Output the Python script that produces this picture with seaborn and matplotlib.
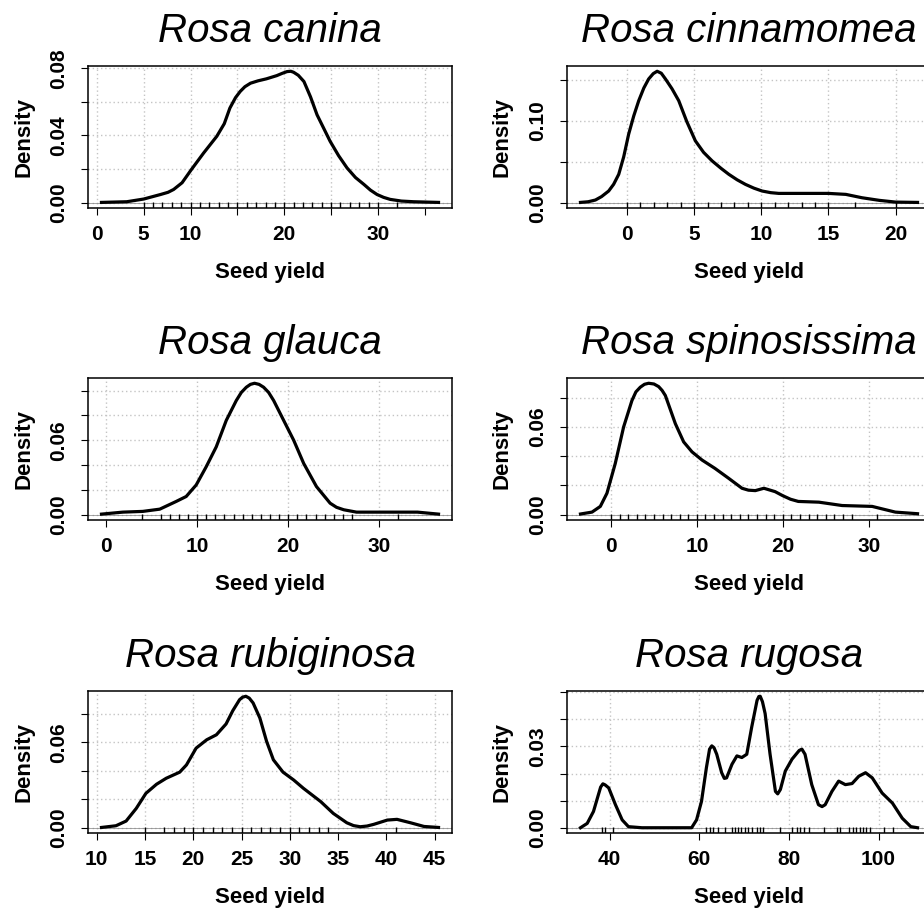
import numpy as np
import matplotlib
matplotlib.use("Agg")
import matplotlib.pyplot as plt
import seaborn as sns

plt.rcParams['font.family'] = ['Liberation Sans', 'DejaVu Sans']

# Density curves (seed yield, density)
canina_x = [0.5, 3.2, 5.0, 6.8, 7.6, 8.2, 9.1, 10.1, 11.4, 12.8, 13.6, 14.2, 14.8, 15.3,
            15.8, 16.4, 17.2, 18.1, 19.2, 19.8, 20.3, 20.7, 21.0, 21.5, 22.1, 22.8,
            23.5, 24.9, 25.8, 26.7, 27.6, 28.5, 29.2, 29.9, 30.6, 31.3, 32.5, 33.8, 36.46]
canina_y = [0.0002, 0.0006, 0.0022, 0.0049, 0.0062, 0.0079, 0.0119, 0.0198, 0.0296,
            0.0395, 0.0470, 0.0563, 0.0625, 0.0662, 0.0690, 0.0711, 0.0725, 0.0737,
            0.0756, 0.0770, 0.0780, 0.0782, 0.0776, 0.0758, 0.0721, 0.0630, 0.0523,
            0.0365, 0.0280, 0.0207, 0.0150, 0.0109, 0.0075, 0.0049, 0.0032, 0.0020,
            0.0010, 0.0006, 0.0002]
canina_rug = [5, 6, 7, 8, 9, 10, 11, 12, 13, 14, 15, 16, 17, 18, 19, 20, 21, 22, 23,
              24, 25, 26, 27, 28, 29, 30, 32]

cinnamomea_x = [-3.47, -2.9, -2.36, -1.9, -1.37, -1.0, -0.62, -0.25, 0.12, 0.5, 0.87,
                1.25, 1.61, 1.95, 2.24, 2.55, 2.86, 3.35, 3.85, 4.45, 5.09, 5.7, 6.34,
                7.0, 7.58, 8.2, 8.82, 9.45, 10.06, 10.7, 11.3, 12.5, 15.0, 16.3, 17.5,
                18.8, 20.0, 21.64]
cinnamomea_y = [0.0004, 0.0012, 0.0033, 0.0075, 0.0143, 0.0225, 0.0347, 0.0560, 0.0837,
                0.1060, 0.1245, 0.1400, 0.1510, 0.1575, 0.1604, 0.1580, 0.1510, 0.1390,
                0.1245, 0.0990, 0.0755, 0.0615, 0.0510, 0.0420, 0.0347, 0.0280, 0.0224,
                0.0178, 0.0143, 0.0123, 0.0114, 0.0114, 0.0114, 0.0102, 0.0061, 0.0029,
                0.0008, 0.0004]
cinnamomea_rug = [0, 1, 2, 3, 4, 5, 6, 7, 8, 9, 10, 11, 12, 13, 14, 15, 17, 20]

glauca_x = [-0.5, 1.84, 4.04, 5.9, 7.7, 8.8, 9.9, 11.0, 12.1, 13.2, 14.3, 14.85, 15.4,
            15.85, 16.3, 16.8, 17.3, 17.85, 18.4, 19.5, 20.6, 21.7, 23.1, 24.6, 25.3,
            26.1, 27.5, 30.5, 34.2, 36.5]
glauca_y = [0.0005, 0.0021, 0.0027, 0.0045, 0.0107, 0.0147, 0.0240, 0.0387, 0.0547,
            0.0760, 0.0920, 0.0985, 0.1027, 0.1050, 0.1059, 0.1050, 0.1027, 0.0985,
            0.0920, 0.0760, 0.0600, 0.0413, 0.0227, 0.0093, 0.0060, 0.0040, 0.0021,
            0.0021, 0.0021, 0.0005]
glauca_rug = [4, 6, 7, 8, 9, 10, 11, 12, 13, 14, 15, 16, 17, 18, 19, 20, 21, 22, 23,
              24, 25, 26, 27, 32]

spinosissima_x = [-3.55, -2.21, -1.24, -0.47, 0.5, 1.47, 2.44, 2.9, 3.41, 3.9, 4.38,
                  5.0, 5.55, 5.95, 6.33, 7.49, 8.46, 9.43, 10.6, 12.1, 13.7, 15.25, 16.0,
                  16.8, 17.8, 19.1, 20.0, 20.9, 21.8, 24.2, 26.9, 30.4, 31.5, 33.1, 35.68]
spinosissima_y = [0.0005, 0.0018, 0.0057, 0.0147, 0.0351, 0.0600, 0.0781, 0.0840, 0.0872,
                  0.0892, 0.0899, 0.0894, 0.0876, 0.0850, 0.0815, 0.0623, 0.0498, 0.0430,
                  0.0374, 0.0317, 0.0249, 0.0181, 0.0168, 0.0165, 0.0181, 0.0158, 0.0130,
                  0.0106, 0.0091, 0.0086, 0.0063, 0.0057, 0.0041, 0.0018, 0.0007]
spinosissima_rug = [0, 1, 2, 3, 4, 5, 6, 7, 8, 9, 10, 11, 12, 13, 14, 15, 16, 17, 18,
                    19, 20, 21, 22, 23, 24, 25, 26, 27, 28, 31]

rubiginosa_x = [10.5, 12.0, 13.05, 14.1, 15.1, 16.2, 17.2, 18.6, 19.3, 20.3, 21.4, 22.4,
                23.4, 24.1, 24.8, 25.1, 25.45, 25.8, 26.2, 26.9, 27.6, 28.3, 29.3, 30.4,
                31.4, 33.2, 34.5, 35.9, 36.6, 37.3, 38.0, 38.7, 40.1, 41.1, 42.5, 43.9, 45.4]
rubiginosa_y = [0.0002, 0.0014, 0.0047, 0.0136, 0.0242, 0.0306, 0.0348, 0.0391, 0.0442,
                0.0560, 0.0619, 0.0654, 0.0730, 0.0824, 0.0901, 0.0918, 0.0925, 0.0912,
                0.0878, 0.0772, 0.0607, 0.0478, 0.0391, 0.0336, 0.0278, 0.0184, 0.0101,
                0.0035, 0.0015, 0.0007, 0.0012, 0.0024, 0.0054, 0.0059, 0.0035, 0.0009,
                0.0002]
rubiginosa_rug = [15, 17, 18, 19, 20, 21, 22, 23, 24, 25, 26, 27, 28, 29, 30, 31, 32,
                  33, 34, 41]

rugosa_x = [33.5, 35.0, 36.4, 37.5, 38.0, 38.5, 39.0, 39.8, 41.3, 42.8, 44.2, 47.2,
            58.3, 59.4, 60.5, 61.6, 62.3, 62.8, 63.3, 63.9, 65.0, 65.6, 66.1, 67.3,
            68.4, 69.5, 70.6, 71.7, 72.9, 73.3, 73.6, 74.1, 74.7, 75.8, 77.0, 77.5,
            78.1, 79.2, 80.7, 82.3, 82.9, 83.6, 85.1, 86.6, 87.4, 88.1, 89.6, 91.1,
            92.6, 94.1, 95.6, 97.1, 98.6, 100.8, 103.1, 105.3, 107.2, 108.7]
rugosa_y = [0.0, 0.0016, 0.0060, 0.0122, 0.0150, 0.0162, 0.0158, 0.0147, 0.0085, 0.0029,
            0.0004, 0.0, 0.0, 0.0029, 0.0097, 0.0222, 0.0290, 0.0302, 0.0295, 0.0271,
            0.0203, 0.0182, 0.0184, 0.0234, 0.0265, 0.0259, 0.0271, 0.0371, 0.0470,
            0.0484, 0.0485, 0.0465, 0.0421, 0.0271, 0.0134, 0.0125, 0.0141, 0.0209,
            0.0253, 0.0285, 0.0290, 0.0271, 0.0159, 0.0085, 0.0078, 0.0085, 0.0134,
            0.0172, 0.0159, 0.0163, 0.0190, 0.0203, 0.0184, 0.0128, 0.0091, 0.0035,
            0.0004, 0.0]
rugosa_rug = [38.2, 39.0, 40.8, 61.6, 62.4, 63.1, 64.2, 65.7, 67.2, 68.0, 68.7, 69.4,
              70.2, 70.9, 71.7, 72.8, 73.5, 74.3, 78.0, 80.8, 81.7, 82.5, 83.3, 84.5,
              87.8, 90.7, 91.5, 93.4, 94.2, 95.0, 95.8, 96.6, 97.3, 98.2, 101.3, 103.2]

# Axis ticks and the labels R kept (blank = dropped for overlap)
canina_xticks = [0, 5, 10, 15, 20, 25, 30, 35]
canina_xlabels = ['0', '5', '10', '', '20', '', '30', '']
canina_yticks = [0, 0.02, 0.04, 0.06, 0.08]
canina_ylabels = ['0.00', '', '0.04', '', '0.08']

cinnamomea_xticks = [0, 5, 10, 15, 20]
cinnamomea_xlabels = ['0', '5', '10', '15', '20']
cinnamomea_yticks = [0, 0.05, 0.10, 0.15]
cinnamomea_ylabels = ['0.00', '', '0.10', '']

glauca_xticks = [0, 10, 20, 30]
glauca_xlabels = ['0', '10', '20', '30']
glauca_yticks = [0, 0.02, 0.04, 0.06, 0.08, 0.10]
glauca_ylabels = ['0.00', '', '', '0.06', '', '']

spinosissima_xticks = [0, 10, 20, 30]
spinosissima_xlabels = ['0', '10', '20', '30']
spinosissima_yticks = [0, 0.02, 0.04, 0.06, 0.08]
spinosissima_ylabels = ['0.00', '', '', '0.06', '']

rubiginosa_xticks = [10, 15, 20, 25, 30, 35, 40, 45]
rubiginosa_xlabels = ['10', '15', '20', '25', '30', '35', '40', '45']
rubiginosa_yticks = [0, 0.02, 0.04, 0.06, 0.08]
rubiginosa_ylabels = ['0.00', '', '', '0.06', '']

rugosa_xticks = [40, 60, 80, 100]
rugosa_xlabels = ['40', '60', '80', '100']
rugosa_yticks = [0, 0.01, 0.02, 0.03, 0.04, 0.05]
rugosa_ylabels = ['0.00', '', '', '0.03', '', '']

species = ['Rosa canina', 'Rosa cinnamomea', 'Rosa glauca',
           'Rosa spinosissima', 'Rosa rubiginosa', 'Rosa rugosa']

panels = [
    (canina_x, canina_y, canina_rug, canina_xticks, canina_xlabels, canina_yticks, canina_ylabels),
    (cinnamomea_x, cinnamomea_y, cinnamomea_rug, cinnamomea_xticks, cinnamomea_xlabels,
     cinnamomea_yticks, cinnamomea_ylabels),
    (glauca_x, glauca_y, glauca_rug, glauca_xticks, glauca_xlabels, glauca_yticks, glauca_ylabels),
    (spinosissima_x, spinosissima_y, spinosissima_rug, spinosissima_xticks, spinosissima_xlabels,
     spinosissima_yticks, spinosissima_ylabels),
    (rubiginosa_x, rubiginosa_y, rubiginosa_rug, rubiginosa_xticks, rubiginosa_xlabels,
     rubiginosa_yticks, rubiginosa_ylabels),
    (rugosa_x, rugosa_y, rugosa_rug, rugosa_xticks, rugosa_xlabels, rugosa_yticks, rugosa_ylabels),
]

# Layout in pixels (figure is 924 x 908, right column runs off the edge)
W, H = 924, 908
col_left = [88, 567]
row_top = [66, 378, 691]
box_w, box_h = 364, 142

fig = plt.figure(figsize=(W / 100, H / 100), dpi=100)

for i, (name, (xs, ys, rug, xt, xl, yt, yl)) in enumerate(zip(species, panels)):
    r, c = divmod(i, 2)
    rect = [col_left[c] / W, 1 - (row_top[r] + box_h) / H, box_w / W, box_h / H]
    ax = fig.add_axes(rect)

    # R style limits: 4% padding around the curve range
    xr = max(xs) - min(xs)
    ax.set_xlim(min(xs) - 0.04 * xr, max(xs) + 0.04 * xr)
    ymax = max(ys)
    ax.set_ylim(-0.04 * ymax, 1.04 * ymax)

    ax.set_xticks(xt)
    ax.set_xticklabels(xl, fontsize=15, fontweight='bold')
    ax.set_yticks(yt)
    ax.set_yticklabels(yl, fontsize=15, fontweight='bold', rotation=90, va='center')

    # dotted light gray grid, like R's grid()
    ax.grid(True, color='#c4c4c4', linestyle=(0, (1, 2)), linewidth=1)
    ax.set_axisbelow(True)
    ax.axhline(0, color='gray', linewidth=0.5, zorder=1)

    sns.lineplot(x=xs, y=ys, ax=ax, color='black', linewidth=2.3,
                 estimator=None, sort=False, zorder=3)
    sns.rugplot(x=rug, ax=ax, height=0.04, color='black', linewidth=1)

    ax.set_title(name, fontsize=29, style='italic', pad=17)
    ax.set_xlabel('Seed yield', fontsize=16, fontweight='bold')
    ax.set_ylabel('Density', fontsize=16, fontweight='bold')
    ax.xaxis.label.set_va('baseline')
    ax.yaxis.label.set_va('baseline')
    ax.xaxis.set_label_coords(0.5, -70 / box_h)
    ax.yaxis.set_label_coords(-59 / box_w, 0.5)

    ax.tick_params(axis='both', direction='out', length=5, width=0.8,
                   color='black', labelcolor='black', pad=7)
    ax.tick_params(axis='y', pad=9)
    for sp in ax.spines.values():
        sp.set_linewidth(1.1)
        sp.set_color('black')

fig.savefig('out.png', dpi=100)
